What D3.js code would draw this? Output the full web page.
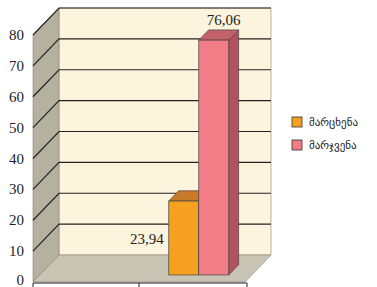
<!DOCTYPE html>
<html>
<head>
<meta charset="utf-8">
<script src="https://cdn.jsdelivr.net/npm/d3@7"></script>
<style>
  body { margin: 0; background: #fff; }
  svg { display: block; }
</style>
</head>
<body>
<div id="chart"></div>
<script>
// Data
const categories = ["A", "B"];
const seriesNames = ["მარცხენა", "მარჯვენა"];
const seriesValues = [
  [null, 23.94],   // მარცხენა
  [null, 76.06]    // მარჯვენა
];
const yTicks = [0, 10, 20, 30, 40, 50, 60, 70, 80];
const colors = ["#f5a01f", "#f27d86"];
const topColors = ["#c97a28", "#c4626c"];
const sideColors = ["#b56a22", "#b3525d"];

const width = 377, height = 287;
const depthX = 26, depthY = -27;   // full depth of the 3D box

const svg = d3.select("#chart").append("svg")
    .attr("width", width)
    .attr("height", height);

// front-plane scales
const x = d3.scaleBand().domain(categories).range([33, 245]);
const y = d3.scaleLinear().domain([0, 80]).range([282, 35]);

// project (screen x on front, value, depth 0..1)
const P = (px, v, z) => [px + z * depthX, y(v) + z * depthY];
const poly = pts => "M" + pts.map(p => p.join(",")).join("L") + "Z";

const x0 = x.range()[0], x1 = x.range()[1];

// back wall
svg.append("path")
   .attr("d", poly([P(x0, 0, 1), P(x1, 0, 1), P(x1, 80, 1), P(x0, 80, 1)]))
   .attr("fill", "#fcf4dd")
   .attr("stroke", "#8a8577")
   .attr("stroke-width", 0.6);

// left wall
svg.append("path")
   .attr("d", poly([P(x0, 0, 0), P(x0, 0, 1), P(x0, 80, 1), P(x0, 80, 0)]))
   .attr("fill", "#b6b09f")
   .attr("stroke", "#8a8577")
   .attr("stroke-width", 0.6);

// floor
svg.append("path")
   .attr("d", poly([P(x0, 0, 0), P(x1, 0, 0), P(x1, 0, 1), P(x0, 0, 1)]))
   .attr("fill", "#c9c4b4")
   .attr("stroke", "#8a8577")
   .attr("stroke-width", 0.6);

// gridlines on the back and left walls
yTicks.filter(t => t > 0).forEach(t => {
  const a = P(x0, t, 0), b = P(x0, t, 1), c = P(x1, t, 1);
  svg.append("path")
     .attr("d", `M${a}L${b}L${c}`)
     .attr("fill", "none")
     .attr("stroke", "#222")
     .attr("stroke-width", 1.2);
});

// y axis labels
svg.append("g")
   .selectAll("text")
   .data(yTicks)
   .enter()
   .append("text")
   .attr("x", 24)
   .attr("y", d => Math.min(y(d) + 5, 285))
   .attr("text-anchor", "end")
   .style("font-family", "Liberation Serif, serif")
   .style("font-size", "15px")
   .attr("fill", "#222")
   .text(d => d);

// x axis line with ticks at category boundaries
const xAxis = svg.append("g");
xAxis.append("line")
   .attr("x1", x0).attr("x2", x1 + 2)
   .attr("y1", y(0) + 1).attr("y2", y(0) + 1)
   .attr("stroke", "#222");
[x0, x("B"), x1 + 2].forEach(px => {
  xAxis.append("line")
     .attr("x1", px).attr("x2", px)
     .attr("y1", y(0) + 1).attr("y2", y(0) + 5)
     .attr("stroke", "#222");
});

// bars
const barW = 30;
const zFront = 0.26, zBack = 0.64;
const barX = d3.scaleBand().domain(d3.range(seriesNames.length))
    .range([0, barW * seriesNames.length]);

seriesValues.forEach((vals, s) => {
  vals.forEach((v, i) => {
    if (v == null) return;
    const cx = x(categories[i]) + x.bandwidth() / 2 - barW * seriesNames.length / 2;
    const l = cx + barX(s), r = l + barX.bandwidth();
    const g = svg.append("g");
    // side
    g.append("path")
     .attr("d", poly([P(r, 0, zFront), P(r, 0, zBack), P(r, v, zBack), P(r, v, zFront)]))
     .attr("fill", sideColors[s]).attr("stroke", "#444").attr("stroke-width", 0.7);
    // top
    g.append("path")
     .attr("d", poly([P(l, v, zFront), P(r, v, zFront), P(r, v, zBack), P(l, v, zBack)]))
     .attr("fill", topColors[s]).attr("stroke", "#444").attr("stroke-width", 0.7);
    // front
    const f0 = P(l, v, zFront), f1 = P(r, 0, zFront);
    g.append("rect")
     .attr("x", f0[0]).attr("y", f0[1])
     .attr("width", f1[0] - f0[0]).attr("height", f1[1] - f0[1])
     .attr("fill", colors[s]).attr("stroke", "#444").attr("stroke-width", 0.7);
  });
});

// value labels
const fmt = v => d3.format(".2f")(v).replace(".", ",");
(function () {
  const i = 1;
  const cx = x(categories[i]) + x.bandwidth() / 2 - barW * seriesNames.length / 2;
  // left series: label to the left of the bar
  const v0 = seriesValues[0][i];
  const p0 = P(cx + barX(0), v0 / 2, zFront);
  svg.append("text")
     .attr("x", p0[0] - 5).attr("y", p0[1] + 6)
     .attr("text-anchor", "end")
     .style("font-family", "Liberation Serif, serif")
     .style("font-size", "15px").attr("fill", "#222")
     .text(fmt(v0));
  // right series: label above the bar
  const v1 = seriesValues[1][i];
  const p1 = P(cx + barX(1) + barX.bandwidth() / 2, v1, zBack);
  svg.append("text")
     .attr("x", p1[0]).attr("y", p1[1] - 5)
     .attr("text-anchor", "middle")
     .style("font-family", "Liberation Serif, serif")
     .style("font-size", "15px").attr("fill", "#222")
     .text(fmt(v1));
})();

// legend
const legend = svg.append("g").attr("transform", "translate(292,117)");
seriesNames.forEach((name, i) => {
  legend.append("rect")
        .attr("x", 0).attr("y", i * 23)
        .attr("width", 10).attr("height", 10)
        .attr("fill", colors[i])
        .attr("stroke", "#333").attr("stroke-width", 0.8);
  legend.append("text")
        .attr("x", 17).attr("y", i * 23 + 9)
        .style("font-family", "DejaVu Sans, sans-serif")
        .style("font-size", "11px").attr("fill", "#222")
        .text(name);
});
</script>
</body>
</html>
